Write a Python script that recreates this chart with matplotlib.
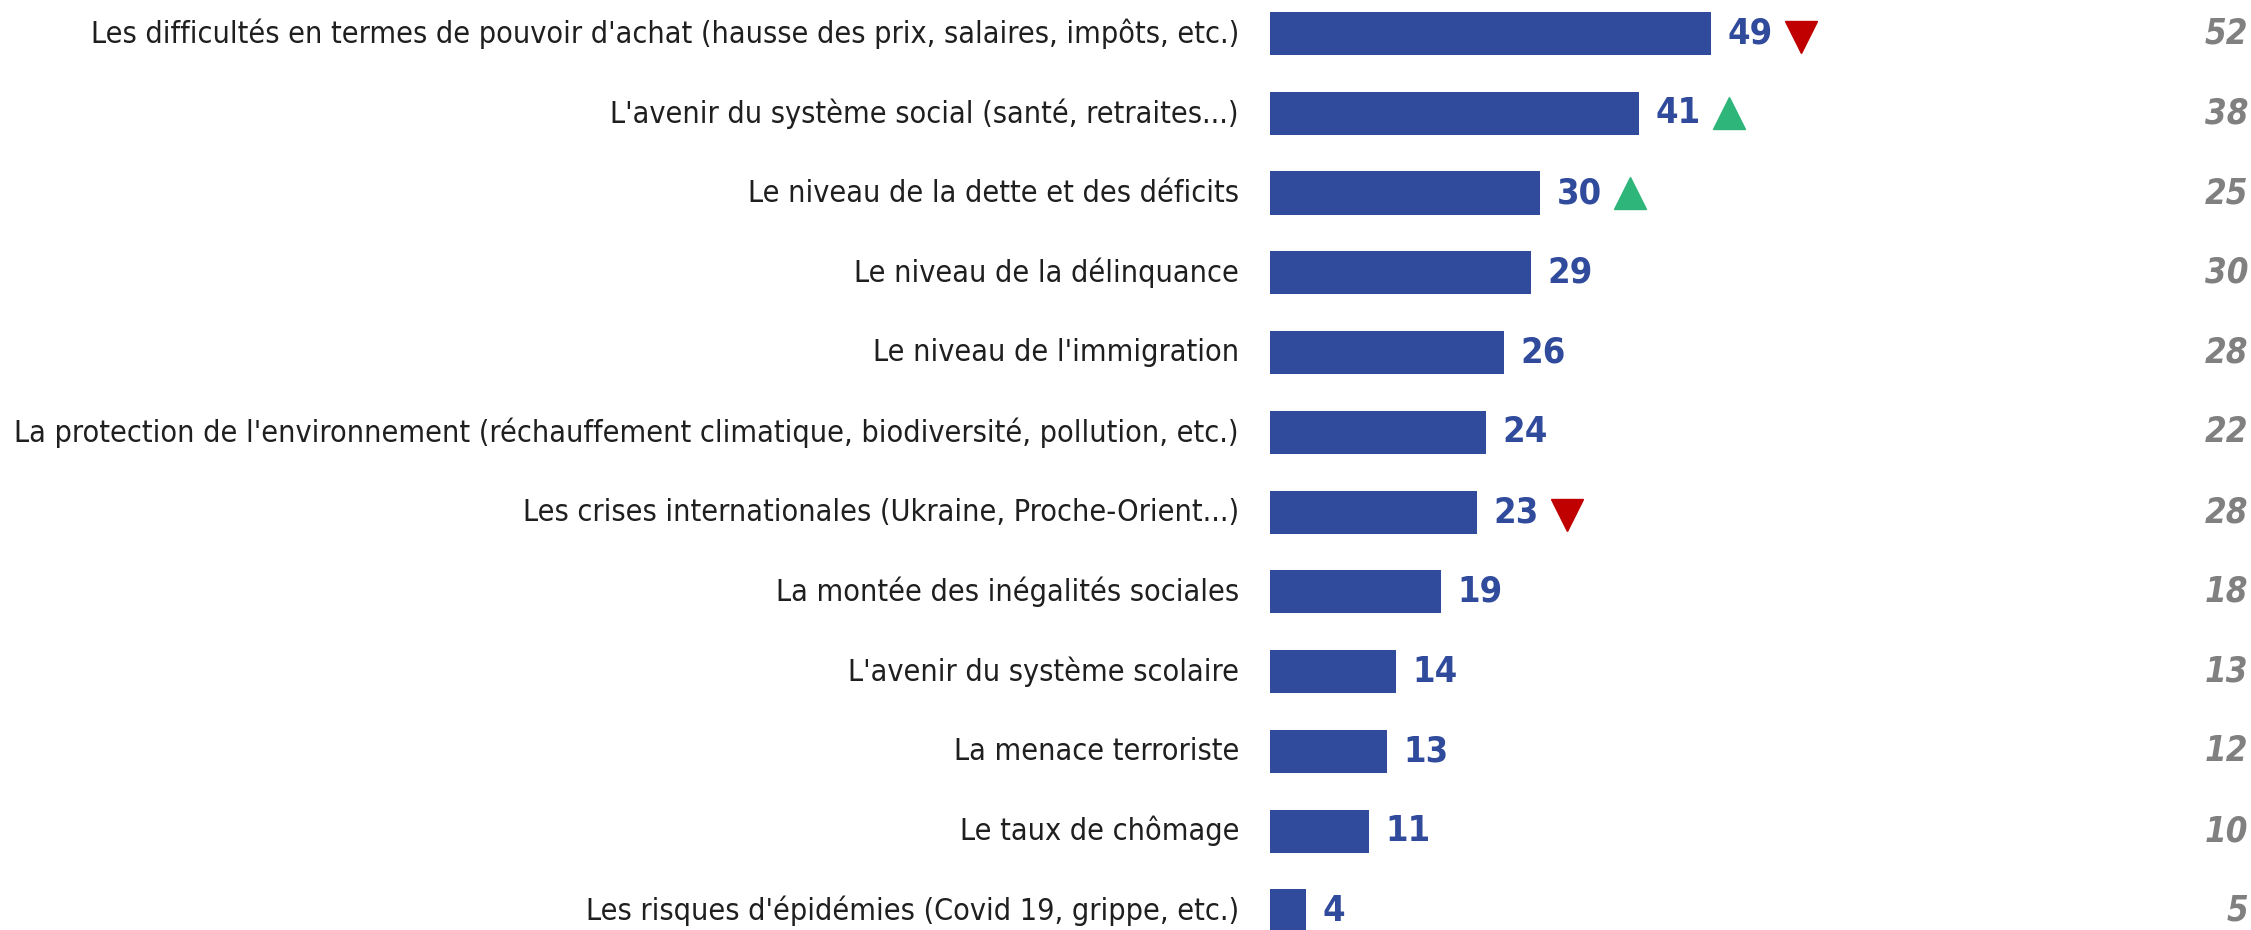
import matplotlib
matplotlib.use("Agg")
import matplotlib.pyplot as plt
import matplotlib.transforms as mtransforms
import matplotlib.font_manager as fm

labels = [
    "Les difficultés en termes de pouvoir d'achat (hausse des prix, salaires, impôts, etc.)",
    "L'avenir du système social (santé, retraites...)",
    "Le niveau de la dette et des déficits",
    "Le niveau de la délinquance",
    "Le niveau de l'immigration",
    "La protection de l'environnement (réchauffement climatique, biodiversité, pollution, etc.)",
    "Les crises internationales (Ukraine, Proche-Orient...)",
    "La montée des inégalités sociales",
    "L'avenir du système scolaire",
    "La menace terroriste",
    "Le taux de chômage",
    "Les risques d'épidémies (Covid 19, grippe, etc.)",
]
current = [49, 41, 30, 29, 26, 24, 23, 19, 14, 13, 11, 4]
previous = [52, 38, 25, 30, 28, 22, 28, 18, 13, 12, 10, 5]
# significant change vs previous wave: -1 down, +1 up, 0 none
trend = [-1, 1, 1, 0, 0, 0, -1, 0, 0, 0, 0, 0]

BAR = "#304A9C"
GREY = "#808080"
RED = "#C00000"
GREEN = "#2EB67A"


def weight_num(w):
    return w if isinstance(w, int) else fm.weight_dict.get(w, 400)


def pick_font(weight, italic=False):
    """Look for an installed narrow sans face, else fall back to Roboto."""
    for stretch in ("semi-condensed", "condensed"):
        for fam in ("Noto Sans", "DejaVu Sans", "Liberation Sans Narrow", "Roboto", "Open Sans"):
            hits = [f for f in fm.fontManager.ttflist
                    if f.name.startswith(fam) and f.stretch == stretch
                    and (f.style != "normal") == italic]
            if hits:
                best = min(hits, key=lambda f: abs(weight_num(f.weight) - weight))
                return fm.FontProperties(fname=best.fname)
    return fm.FontProperties(family="Roboto", weight=weight,
                             style="italic" if italic else "normal")


fp_lab = pick_font(400)
fp_val = pick_font(700)
fp_prev = pick_font(700, italic=True)

fig = plt.figure(figsize=(22.51, 9.30), dpi=100)
x0 = 1270 / 2251
ax = fig.add_axes([x0, 0, 1 - x0, 1])
y = list(range(len(labels)))
ax.barh(y, current, height=0.54, color=BAR)
ax.set_xlim(0, 109.0)
ax.set_ylim(11.24, -0.42)
ax.axis("off")

lab_txt = [ax.annotate(lab, xy=(0, i), xytext=(-22.3, 0), textcoords="offset points",
                       ha="right", va="center", fontproperties=fp_lab, color="#1f1f1f")
           for i, lab in enumerate(labels)]
val_txt = [ax.annotate(str(v), xy=(v, i), xytext=(11.9, 0), textcoords="offset points",
                       ha="left", va="center", fontproperties=fp_val, color=BAR)
           for i, v in enumerate(current)]
tr = mtransforms.blended_transform_factory(ax.transAxes, ax.transData)
prev_txt = [ax.text(0.997, i, str(p), transform=tr, ha="right", va="center",
                    fontproperties=fp_prev, color=GREY)
            for i, p in enumerate(previous)]


def fit(texts, ref, target_w, max_size):
    # size the group so the reference string has the reference width
    for t in texts:
        t.set_fontsize(20)
    fig.canvas.draw()
    w = texts[ref].get_window_extent().width
    size = min(max_size, 20 * target_w / w)
    for t in texts:
        t.set_fontsize(size)


fit(lab_txt, 5, 1222, 22.5)
for t in val_txt:
    t.set_fontsize(26)
for t in prev_txt:
    t.set_fontsize(25)

# trend triangles after the value labels
fig.canvas.draw()
inv = ax.transData.inverted()
for i, d in enumerate(trend):
    if d == 0:
        continue
    bb = val_txt[i].get_window_extent()
    xd = inv.transform((bb.x1 + 28.5, 0))[0]
    ax.plot(xd, i + (0.04 if d < 0 else 0), marker="v" if d < 0 else "^",
            markersize=23, color=RED if d < 0 else GREEN, clip_on=False)

fig.savefig("out.png", dpi=100)
